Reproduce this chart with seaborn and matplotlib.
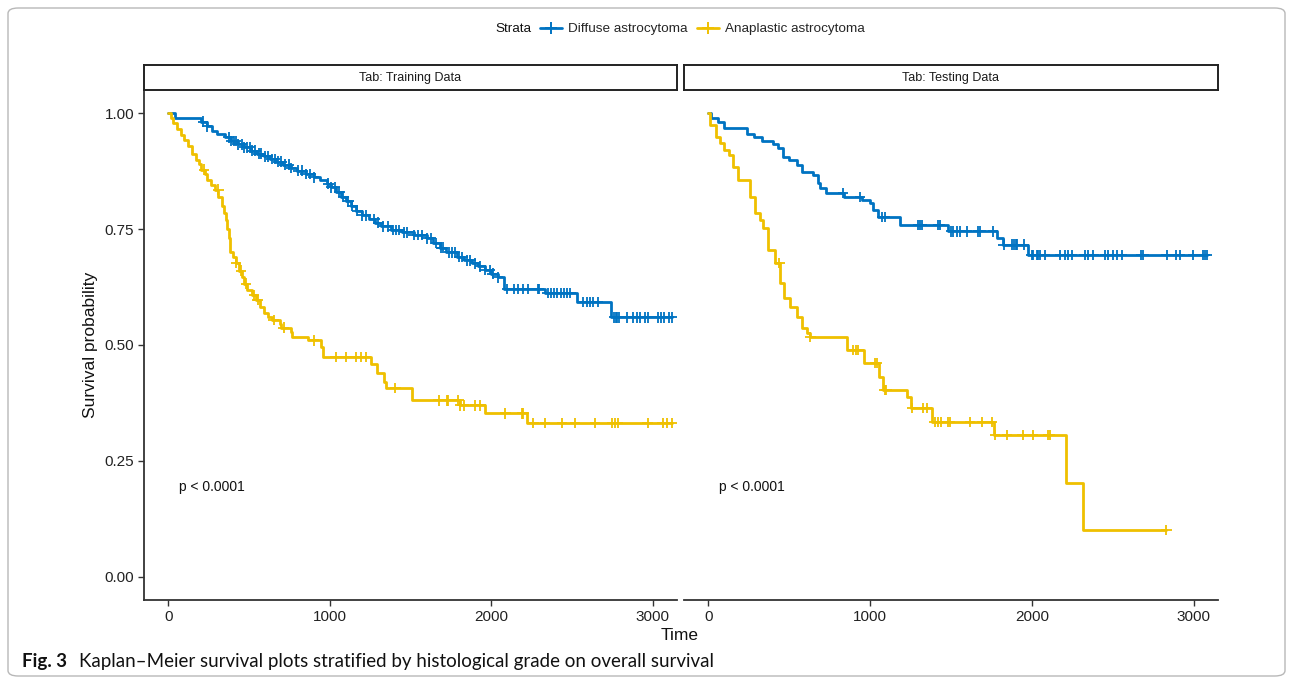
import numpy as np
import pandas as pd
import matplotlib
matplotlib.use("Agg")
import matplotlib.pyplot as plt
from matplotlib.lines import Line2D
from matplotlib.patches import FancyBboxPatch
import seaborn as sns

# ---------------- data ----------------
strata = ["Diffuse astrocytoma", "Anaplastic astrocytoma"]
panels = ["Tab: Training Data", "Tab: Testing Data"]
colors = ["#0073C2", "#EFC000"]

# Training: diffuse
train_diffuse_t = [0, 40, 200, 240, 270, 300, 350, 390, 430, 470, 510, 550, 590, 630, 670, 710, 760,
                   800, 850, 900, 940, 980, 1010, 1040, 1070, 1100, 1130, 1160, 1200, 1240, 1280, 1320,
                   1380, 1450, 1520, 1600, 1640, 1680, 1720, 1790, 1830, 1880, 1920, 1960, 2000, 2040,
                   2078, 2330, 2530, 2740]
train_diffuse_s = [1.0, 0.99, 0.982, 0.972, 0.962, 0.955, 0.948, 0.94, 0.933, 0.926, 0.919, 0.913,
                   0.907, 0.901, 0.895, 0.889, 0.882, 0.876, 0.869, 0.862, 0.855, 0.848, 0.84, 0.83,
                   0.82, 0.81, 0.8, 0.79, 0.78, 0.772, 0.764, 0.756, 0.748, 0.743, 0.737, 0.73, 0.72,
                   0.71, 0.7, 0.69, 0.683, 0.676, 0.67, 0.662, 0.654, 0.646, 0.621, 0.612, 0.593, 0.56]
train_diffuse_end = 3120
train_diffuse_cens = [215, 240, 375, 390, 405, 420, 430, 455, 470, 490, 505, 520, 540, 560, 575, 600,
                      615, 640, 660, 680, 700, 720, 745, 760, 805, 830, 850, 880, 900, 990, 1010, 1030,
                      1060, 1085, 1115, 1140, 1170, 1200, 1225, 1275, 1300, 1330, 1360, 1390, 1410,
                      1430, 1460, 1480, 1520, 1545, 1570, 1600, 1625, 1660, 1690, 1700, 1740, 1760,
                      1775, 1800, 1820, 1850, 1870, 1900, 1930, 1960, 1990, 2010, 2040, 2100, 2140,
                      2165, 2195, 2226, 2288, 2294, 2350, 2370, 2390, 2410, 2430, 2450, 2470, 2490,
                      2570, 2590, 2610, 2630, 2660, 2760, 2770, 2780, 2790, 2840, 2880, 2900, 2920,
                      2950, 2970, 3030, 3050, 3070, 3100, 3120]

# Training: anaplastic
train_anapl_t = [0, 15, 30, 55, 80, 100, 125, 145, 170, 190, 205, 225, 240, 265, 290, 310, 330, 345,
                 355, 365, 375, 385, 400, 420, 440, 455, 470, 490, 520, 545, 570, 590, 620, 640, 690,
                 700, 760, 765, 864, 944, 957, 1253, 1290, 1333, 1350, 1512, 1809, 1963, 2222]
train_anapl_s = [1.0, 0.99, 0.978, 0.965, 0.952, 0.942, 0.93, 0.913, 0.9, 0.89, 0.878, 0.868, 0.856,
                 0.845, 0.835, 0.819, 0.8, 0.785, 0.77, 0.75, 0.73, 0.7, 0.69, 0.677, 0.66, 0.647,
                 0.632, 0.618, 0.607, 0.597, 0.583, 0.569, 0.561, 0.554, 0.545, 0.537, 0.527, 0.517,
                 0.51, 0.496, 0.474, 0.46, 0.44, 0.42, 0.407, 0.381, 0.37, 0.353, 0.332]
train_anapl_end = 3120
train_anapl_cens = [222, 309, 420, 451, 481, 531, 555, 654, 716, 901, 1037, 1099, 1160, 1191, 1222,
                    1407, 1674, 1728, 1735, 1796, 1809, 1830, 1900, 1932, 2086, 2190, 2198, 2261,
                    2333, 2438, 2519, 2642, 2747, 2765, 2784, 2969, 3062, 3086, 3117]

# Testing: diffuse
test_diffuse_t = [0, 15, 60, 100, 240, 280, 330, 400, 430, 460, 500, 550, 580, 650, 675, 690, 730,
                  840, 952, 1000, 1020, 1050, 1187, 1484, 1784, 1820, 1975]
test_diffuse_s = [1.0, 0.99, 0.98, 0.967, 0.956, 0.948, 0.94, 0.933, 0.924, 0.905, 0.899, 0.888,
                  0.873, 0.866, 0.849, 0.838, 0.828, 0.819, 0.813, 0.806, 0.791, 0.776, 0.759, 0.745,
                  0.73, 0.716, 0.694]
test_diffuse_end = 3080
test_diffuse_cens = [833, 938, 1074, 1090, 1296, 1310, 1321, 1420, 1432, 1500, 1512, 1537, 1556, 1599,
                     1667, 1680, 1760, 1825, 1880, 1890, 1900, 1910, 1950, 1998, 2008, 2029, 2039,
                     2049, 2080, 2173, 2204, 2224, 2245, 2327, 2348, 2379, 2451, 2471, 2502, 2523,
                     2554, 2677, 2688, 2832, 2893, 2914, 2996, 3058, 3068, 3080]

# Testing: anaplastic
test_anapl_t = [0, 10, 45, 75, 95, 125, 155, 185, 260, 290, 320, 340, 370, 415, 445, 465, 505, 550,
                580, 610, 630, 857, 960, 1052, 1082, 1230, 1250, 1384, 1763, 2208, 2313]
test_anapl_s = [1.0, 0.974, 0.948, 0.935, 0.92, 0.909, 0.884, 0.856, 0.819, 0.784, 0.769, 0.752,
                0.705, 0.677, 0.634, 0.601, 0.582, 0.56, 0.537, 0.526, 0.517, 0.489, 0.461, 0.431,
                0.403, 0.388, 0.364, 0.334, 0.306, 0.203, 0.101]
test_anapl_end = 2830
test_anapl_cens = [440, 630, 897, 910, 928, 1031, 1040, 1090, 1100, 1260, 1330, 1352, 1400, 1420,
                   1440, 1484, 1494, 1617, 1691, 1753, 1772, 1846, 1944, 2006, 2099, 2111, 2830]

pval_text = "p < 0.0001"
x_ticks = [0, 1000, 2000, 3000]
y_ticks = [0.0, 0.25, 0.5, 0.75, 1.0]
y_ticklabels = ["0.00", "0.25", "0.50", "0.75", "1.00"]

curves = {
    (panels[0], strata[0]): (train_diffuse_t, train_diffuse_s, train_diffuse_end, train_diffuse_cens),
    (panels[0], strata[1]): (train_anapl_t, train_anapl_s, train_anapl_end, train_anapl_cens),
    (panels[1], strata[0]): (test_diffuse_t, test_diffuse_s, test_diffuse_end, test_diffuse_cens),
    (panels[1], strata[1]): (test_anapl_t, test_anapl_s, test_anapl_end, test_anapl_cens),
}

line_rows, cens_rows = [], []
for (panel, stratum), (t, s, end, cens) in curves.items():
    for ti, si in zip(list(t) + [end], list(s) + [s[-1]]):
        line_rows.append((panel, stratum, ti, si))
    t_arr = np.asarray(t)
    for c in cens:
        idx = np.searchsorted(t_arr, c, side="right") - 1
        cens_rows.append((panel, stratum, c, s[idx]))
lines_df = pd.DataFrame(line_rows, columns=["panel", "strata", "time", "surv"])
cens_df = pd.DataFrame(cens_rows, columns=["panel", "strata", "time", "surv"])

# ---------------- figure ----------------
sns.set_theme(style="white")
plt.rcParams["font.family"] = ["Liberation Sans", "DejaVu Sans"]
W, H = 1292, 682
fig = plt.figure(figsize=(W / 100, H / 100), dpi=100)

def fx(px):
    return px / W

def fy(py):
    return 1 - py / H

# outer rounded frame
frame = FancyBboxPatch((fx(8), fy(676)), fx(1285) - fx(8), fy(8) - fy(676),
                       boxstyle="round,pad=0,rounding_size=0.008", transform=fig.transFigure,
                       fill=False, edgecolor="#b8b8b8", linewidth=1.0)
fig.patches.append(frame)

panel_x = [(144, 677), (684, 1218)]
ax_top, ax_bot = 90, 600
strip_top = 65
palette = dict(zip(strata, colors))

for i, (panel, (x0, x1)) in enumerate(zip(panels, panel_x)):
    ax = fig.add_axes([fx(x0), fy(ax_bot), fx(x1) - fx(x0), fy(ax_top) - fy(ax_bot)])
    sub = lines_df[lines_df["panel"] == panel]
    sns.lineplot(data=sub, x="time", y="surv", hue="strata", hue_order=strata, palette=palette,
                 drawstyle="steps-post", linewidth=2.0, legend=False, ax=ax, estimator=None,
                 sort=False, units="strata")
    csub = cens_df[cens_df["panel"] == panel]
    sns.scatterplot(data=csub, x="time", y="surv", hue="strata", hue_order=strata, palette=palette,
                    marker="+", s=60, linewidth=1.3, legend=False, ax=ax, zorder=3)
    ax.set_xlim(-150, 3150)
    ax.set_ylim(-0.05, 1.05)
    ax.set_xticks(x_ticks)
    ax.set_xticklabels([str(v) for v in x_ticks])
    ax.set_xlabel("")
    ax.set_ylabel("")
    for sp in ["top", "right"]:
        ax.spines[sp].set_visible(False)
    ax.spines["bottom"].set_color("#333333")
    ax.spines["bottom"].set_linewidth(1.3)
    ax.tick_params(axis="x", length=4, width=1.0, color="#333333", labelsize=11,
                   labelcolor="#222222", pad=3, bottom=True)
    if i == 0:
        ax.set_yticks(y_ticks)
        ax.set_yticklabels(y_ticklabels)
        ax.spines["left"].set_color("#333333")
        ax.spines["left"].set_linewidth(1.3)
        ax.tick_params(axis="y", length=4, width=1.0, color="#333333", labelsize=11,
                       labelcolor="#222222", pad=3, left=True)
    else:
        ax.set_yticks([])
        ax.spines["left"].set_visible(False)
    ax.text(65, 0.193, pval_text, fontsize=10, ha="left", va="center", color="#111111")

    # facet strip
    sax = fig.add_axes([fx(x0), fy(ax_top), fx(x1) - fx(x0), fy(strip_top) - fy(ax_top)])
    sax.set_xticks([])
    sax.set_yticks([])
    for sp in sax.spines.values():
        sp.set_visible(True)
        sp.set_color("#222222")
        sp.set_linewidth(1.4)
    sax.text(0.5, 0.5, panel, fontsize=9, ha="center", va="center", transform=sax.transAxes,
             color="#1a1a1a")

fig.text(fx(90), fy(345), "Survival probability", rotation=90, fontsize=12.5,
         ha="center", va="center", color="#111111")
fig.text(fx(680), fy(635), "Time", fontsize=12.5, ha="center", va="center", color="#111111")

# legend
fig.text(fx(495), fy(29), "Strata", fontsize=9.7, ha="left", va="center", color="#111111")
handles = [Line2D([0], [0], color=c, linewidth=2.0, marker="+", markersize=9, markeredgewidth=1.4)
           for c in colors]
fig.legend(handles, strata, loc="center left", bbox_to_anchor=(fx(540), fy(29)), ncol=2,
           frameon=False, fontsize=9.7, handlelength=1.6, handletextpad=0.45, columnspacing=0.75,
           borderpad=0, borderaxespad=0)

# caption
fig.text(fx(22), fy(661), "Fig. 3", fontsize=13.5, fontweight="bold", ha="left", va="center",
         family=["Lato", "DejaVu Sans"], color="#111111")
fig.text(fx(79), fy(661), "Kaplan\u2013Meier survival plots stratified by histological grade on overall survival",
         fontsize=13.5, ha="left", va="center", family=["Lato", "DejaVu Sans"], color="#111111")

fig.savefig("out.png", dpi=100)
